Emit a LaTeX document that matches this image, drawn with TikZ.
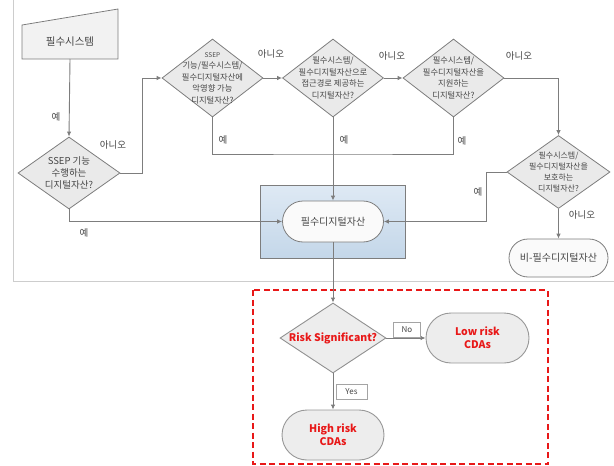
\documentclass[tikz,border=0pt]{standalone}
\usepackage{fontspec}
\setmainfont{Noto Sans CJK KR}
\usetikzlibrary{positioning, arrows.meta, shapes.geometric, shapes.misc}

\definecolor{linegray}{RGB}{125,125,125}
\definecolor{txtgray}{RGB}{70,70,70}
\definecolor{shapegray}{RGB}{234,234,234}
\definecolor{boxtop}{RGB}{222,233,244}
\definecolor{boxbot}{RGB}{196,215,233}
\definecolor{riskred}{RGB}{232,24,24}
\definecolor{framegray}{RGB}{205,205,205}

\begin{document}
\begin{tikzpicture}[x=1pt, y=-1pt,
    flow/.style={draw=linegray, line width=0.9pt, -{Latex[length=5pt,width=4.5pt]}},
    joinline/.style={draw=linegray, line width=0.9pt},
    decision/.style={diamond, draw=linegray, fill=shapegray, line width=0.8pt, inner sep=0pt,
        minimum width=101pt, minimum height=78pt},
    qtext/.style={text=txtgray, align=center, font=\fontsize{8.3}{11.5}\selectfont},
    term/.style={rounded rectangle, draw=linegray, fill=white!96!gray, line width=0.8pt,
        inner sep=0pt, text=txtgray, font=\fontsize{10}{12}\selectfont},
    outcome/.style={rounded rectangle, draw=linegray!80, fill=shapegray!85!white, line width=0.9pt,
        inner sep=0pt, minimum width=103pt, minimum height=50pt},
    answer/.style={text=txtgray, font=\fontsize{9.5}{11}\selectfont},
    redtext/.style={text=riskred, align=center, font=\fontsize{10.5}{13}\selectfont\bfseries},
    tagbox/.style={draw=linegray!70, fill=white, text=txtgray, font=\fontsize{8}{9}\selectfont,
        inner sep=0pt, minimum width=27pt, minimum height=15pt}
]
    \useasboundingbox (0,0) rectangle (614,466);

    % page frame lines
    \draw[framegray, line width=0.8pt] (13,0) -- (13,281) -- (614,281);

    % manual input shape
    \draw[draw=linegray, fill=shapegray!60!white, line width=0.8pt]
        (22,25) -- (118,9) -- (118,59) -- (22,59) -- cycle;
    \node[text=txtgray, font=\fontsize{10.5}{12}\selectfont] (sys) at (70,42) {필수시스템};
    \coordinate (sysout) at (70,59);

    % decisions
    \node[decision, minimum width=102pt, minimum height=72pt] (q1) at (69,173) {};
    \node[qtext, font=\fontsize{9.5}{12}\selectfont] (q1t) at (q1) {SSEP 기능\\수행하는\\디지털자산?};

    \node[decision] (q2) at (212.5,78) {};
    \node[qtext] (q2t) at (q2) {{\fontsize{6.5}{8}\selectfont SSEP}\\기능/필수시스템/\\필수디지털자산에\\악영향 가능\\디지털자산?};

    \node[decision] (q3) at (333,78) {};
    \node[qtext] (q3t) at (q3) {필수시스템/\\필수디지털자산으로\\접근경로 제공하는\\디지털자산?};

    \node[decision] (q4) at (453.5,78) {};
    \node[qtext] (q4t) at (q4) {필수시스템/\\필수디지털자산을\\지원하는\\디지털자산?};

    \node[decision, minimum width=103pt, minimum height=73pt] (q5) at (558.5,172) {};
    \node[qtext, font=\fontsize{8}{11}\selectfont] (q5t) at (q5) {필수시스템/\\필수디지털자산을\\보호하는\\디지털자산?};

    % result boxes
    \node[draw=linegray, line width=0.8pt, top color=boxtop, bottom color=boxbot,
        minimum width=145pt, minimum height=73pt, inner sep=0pt] (cdabox) at (333,221.5) {};
    \node[term, minimum width=101pt, minimum height=41pt] (cda) at (333,221.5) {필수디지털자산};
    \node[term, minimum width=99pt, minimum height=38pt] (noncda) at (558.5,258) {비-필수디지털자산};

    % connectors
    \draw[flow] (sysout) -- (q1.north);
    \draw[flow] (q1.east) -- ++(22,0) |- (q2.west);
    \draw[flow] (q2.east) -- (q3.west);
    \draw[flow] (q3.east) -- (q4.west);
    \draw[flow] (q4.east) -| (q5.north);
    \draw[flow] (q5.west) -- ++(-20,0) |- (cda.east);
    \draw[flow] (q5.south) -- (noncda.north);
    \draw[flow] (q1.south) |- (cda.west);
    \draw[flow] (q3.south) -- (cda.north);
    \coordinate (yesjoin) at (333,154);
    \draw[joinline] (q2.south) |- (yesjoin) -| (q4.south);

    % answer labels
    \node[answer] (a1) at (56,117) {예};
    \node[answer] (a2) at (113,145) {아니오};
    \node[answer] (a3) at (271,54) {아니오};
    \node[answer] (a4) at (392,56) {아니오};
    \node[answer] (a5) at (519,56) {아니오};
    \node[answer] (a6) at (223,140) {예};
    \node[answer] (a7) at (344,140) {예};
    \node[answer] (a8) at (462,141) {예};
    \node[answer] (a9) at (478,192) {예};
    \node[answer] (a10) at (582,215) {아니오};
    \node[answer] (a11) at (84,233) {예};

    % risk screening part
    \draw[riskred, line width=1.5pt, dash pattern=on 6pt off 3.5pt] (253,290) rectangle (548,464);
    \node[diamond, draw=linegray!85, fill=shapegray!85!white, line width=0.9pt, inner sep=0pt,
        minimum width=106pt, minimum height=70pt] (risk) at (333,338) {};
    \node[redtext] (riskt) at (risk) {Risk Significant?};
    \node[outcome] (low) at (477.5,338) {};
    \node[redtext] (lowt) at (low) {Low risk\\CDAs};
    \node[outcome, minimum width=102pt] (high) at (333,435) {};
    \node[redtext] (hight) at (high) {High risk\\CDAs};

    \draw[flow] (cda.south) -- (risk.north);
    \draw[flow] (risk.east) -- (low.west);
    \draw[flow] (risk.south) -- (high.north);
    \node[tagbox] (notag) at (407,329.5) {No};
    \node[tagbox, minimum width=31pt] (yestag) at (351.5,391.5) {Yes};
\end{tikzpicture}
\end{document}
